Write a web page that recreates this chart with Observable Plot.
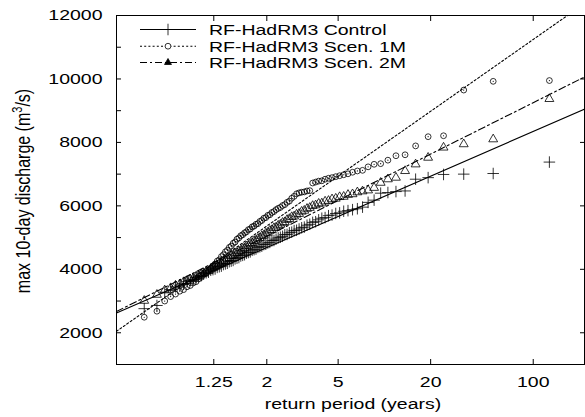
<!DOCTYPE html>
<html>
<head>
<meta charset="utf-8">
<script src="https://cdn.jsdelivr.net/npm/d3@7"></script>
<script src="https://cdn.jsdelivr.net/npm/@observablehq/plot@0.6"></script>
<style>
  body { margin: 0; background: #fff; }
  #chart svg { display: block; }
</style>
</head>
<body>
<div id="chart"></div>
<script>
// annual max 10-day discharge, sorted from largest to smallest (m3/s)
const controlQ = [
  7380, 7020, 7000, 6990, 6890, 6840, 6470, 6450, 6420, 6400,
  6180, 6110, 5960, 5910, 5880, 5850, 5830, 5780, 5760, 5710,
  5690, 5630, 5610, 5560, 5500, 5480, 5420, 5390, 5330, 5310,
  5270, 5230, 5220, 5170, 5150, 5100, 5090, 5040, 5010, 4990,
  4950, 4910, 4900, 4850, 4830, 4790, 4780, 4730, 4710, 4690,
  4640, 4620, 4600, 4550, 4530, 4510, 4460, 4440, 4420, 4370,
  4350, 4330, 4280, 4260, 4240, 4190, 4170, 4150, 4100, 4080,
  4060, 4010, 3990, 3970, 3910, 3890, 3860, 3800, 3770, 3740,
  3680, 3650, 3620, 3550, 3500, 3450, 3360, 3280, 2860, 2760
]
const scen1Q = [
  9950, 9925, 9650, 8210, 8180, 7890, 7610, 7580, 7440, 7330,
  7310, 7230, 7120, 7100, 7060, 7010, 6980, 6950, 6920, 6890,
  6870, 6840, 6790, 6780, 6750, 6720, 6480, 6470, 6440, 6430,
  6410, 6380, 6300, 6240, 6150, 6110, 6040, 6010, 5950, 5920,
  5880, 5820, 5790, 5720, 5700, 5630, 5610, 5540, 5510, 5440,
  5420, 5360, 5340, 5270, 5250, 5180, 5150, 5090, 5060, 4990,
  4950, 4860, 4820, 4730, 4690, 4600, 4550, 4460, 4400, 4300,
  4260, 4170, 4110, 4020, 3960, 3880, 3840, 3750, 3700, 3610,
  3570, 3490, 3450, 3360, 3310, 3220, 3140, 3000, 2680, 2490
]
const scen2Q = [
  9370, 8100, 7945, 7840, 7520, 7310, 7100, 6890, 6840, 6730,
  6570, 6490, 6460, 6430, 6370, 6350, 6290, 6280, 6230, 6210,
  6160, 6140, 6080, 6070, 6020, 6000, 5940, 5910, 5850, 5820,
  5750, 5730, 5670, 5650, 5590, 5560, 5490, 5470, 5410, 5380,
  5320, 5300, 5240, 5220, 5160, 5130, 5070, 5050, 4990, 4970,
  4910, 4890, 4830, 4810, 4750, 4730, 4670, 4650, 4590, 4570,
  4520, 4500, 4440, 4420, 4360, 4340, 4280, 4260, 4200, 4180,
  4120, 4100, 4040, 4010, 3950, 3930, 3870, 3850, 3790, 3770,
  3710, 3690, 3630, 3600, 3530, 3490, 3410, 3340, 3200, 3010
]

const seriesNames = ['RF-HadRM3 Control', 'RF-HadRM3 Scen. 1M', 'RF-HadRM3 Scen. 2M']
// fitted Gumbel lines: Q = location + scale * reduced variate
const gumbelLoc = [4371, 4855, 4680]
const gumbelScale = [864, 1389, 994]

const returnTicks = [1.25, 2, 5, 20, 100]
const returnLabels = ['1.25', '2', '5', '20', '100']
const yMajor = [2000, 4000, 6000, 8000, 10000, 12000]
const yMinor = [2000, 3000, 4000, 5000, 6000, 7000, 8000, 9000, 10000, 11000, 12000]

// gumbel reduced variate of a return period
const gumbel = T => -Math.log(-Math.log(1 - 1 / T))
const uDomain = [-2.022, 5.415]

const seriesQ = [controlQ, scen1Q, scen2Q]
const points = seriesQ.flatMap((q, s) => q.map((v, i) => ({
  s, q: v,
  u: -Math.log(-Math.log(1 - (i + 0.7) / (q.length + 0.4)))
})))
const fits = gumbelLoc.flatMap((m, s) => uDomain.map(u => ({ s, u, q: m + gumbelScale[s] * u })))

const xTickU = returnTicks.map(gumbel)
const xLab = new Map(xTickU.map((u, i) => [u, returnLabels[i]]))

const dashes = [null, '2,2.2', '7,3,2,3']
const symbols = ['plus', 'circle', 'triangle']
const sizes = [3.8, 2.9, 3.3]

const chart = Plot.plot({
  width: 585,
  height: 417,
  marginLeft: 116,
  marginRight: 1,
  marginTop: 15,
  marginBottom: 53,
  style: { fontFamily: 'Liberation Sans, Arial, sans-serif', fontSize: '15px', color: 'black', background: 'white' },
  x: { domain: uDomain },
  y: { domain: [1000, 12000] },
  marks: [
    Plot.frame({ stroke: 'black', strokeWidth: 1 }),
    // inward ticks
    Plot.axisX(xTickU, { anchor: 'bottom', tickSize: -5, tickFormat: () => '', label: null }),
    Plot.axisX(xTickU, { anchor: 'top', tickSize: -5, tickFormat: () => '', label: null }),
    Plot.axisY(yMinor, { anchor: 'left', tickSize: -5, tickFormat: () => '', label: null }),
    Plot.axisY(yMajor, { anchor: 'right', tickSize: -5, tickFormat: () => '', label: null }),
    // tick labels
    Plot.axisX(xTickU, { anchor: 'bottom', tickSize: 0, tickPadding: 12, tickFormat: d => xLab.get(d), label: null }),
    Plot.axisY(yMajor, { anchor: 'left', tickSize: 0, tickPadding: 14, tickFormat: d => String(d), label: null }),
    // fitted lines
    ...[0, 1, 2].map(s => Plot.line(fits.filter(d => d.s === s), {
      x: 'u', y: 'q', stroke: 'black', strokeWidth: 1.1,
      strokeDasharray: dashes[s], clip: true
    })),
    // empirical points
    ...[0, 1, 2].map(s => Plot.dot(points.filter(d => d.s === s), {
      x: 'u', y: 'q', symbol: symbols[s], r: sizes[s],
      stroke: 'black', strokeWidth: 0.8, fill: 'none'
    })),
    Plot.dot(points.filter(d => d.s === 1), { x: 'u', y: 'q', r: 0.6, fill: 'black' })
  ]
})

const svg = d3.select(chart)

// legend
const legendY = [29.5, 46.2, 62.5]
seriesNames.forEach((name, s) => {
  const y = legendY[s]
  svg.append('line')
    .attr('x1', 140).attr('x2', 196).attr('y1', y).attr('y2', y)
    .attr('stroke', 'black').attr('stroke-width', 1.1)
    .attr('stroke-dasharray', dashes[s])
  const sym = [d3.symbolPlus, d3.symbolCircle, d3.symbolTriangle2][s]
  svg.append('path')
    .attr('d', d3.symbol(sym, Math.PI * sizes[s] * sizes[s])())
    .attr('transform', `translate(168,${y})`)
    .attr('fill', s === 2 ? 'black' : 'white').attr('stroke', 'black').attr('stroke-width', 0.8)
  svg.append('text')
    .attr('transform', `translate(209,${y + 5.3})`)
    .attr('text-anchor', 'start')
    .text(name)
})

// axis titles
svg.append('text')
  .attr('transform', 'translate(353,409)')
  .attr('text-anchor', 'middle')
  .text('return period (years)')

const yl = svg.append('text')
  .attr('transform', 'translate(30,191) rotate(-90)')
  .attr('text-anchor', 'middle')
  .attr('font-size', 16)
yl.append('tspan').text('max 10-day discharge (m')
yl.append('tspan').attr('dy', -6).attr('font-size', 11).text('3')
yl.append('tspan').attr('dy', 6).text('/s)')

// stretch glyphs horizontally like the original output
svg.selectAll('text').each(function () {
  const t = this.getAttribute('transform') || ''
  const m = t.match(/^(translate\([^)]*\))(.*)$/)
  if (m) this.setAttribute('transform', `${m[1]} scale(1.3,1)${m[2]}`)
})

d3.select('#chart').append(() => chart)
</script>
</body>
</html>
